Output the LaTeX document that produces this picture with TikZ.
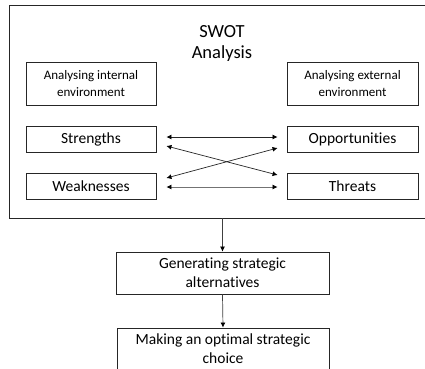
\documentclass[tikz,border=0pt]{standalone}
\usepackage{fontspec}
\setmainfont{Carlito}[Ligatures={NoCommon}]
\usetikzlibrary{arrows.meta,calc}
\begin{document}
\begin{tikzpicture}[x=1pt,y=1pt,
  box/.style={draw=black!85,line width=0.9pt,minimum width=130pt,inner sep=0pt,align=center,font=\fontsize{15.5}{19}\selectfont},
  smallbox/.style={box,minimum height=43pt,font=\fontsize{13}{17}\selectfont},
  rowbox/.style={box,minimum height=26pt},
  flowbox/.style={box,minimum width=213pt,minimum height=42pt,font=\fontsize{15.5}{19}\selectfont},
  link/.style={black!85,line width=0.7pt,{Latex[length=5pt,width=5pt,color=black]}-{Latex[length=5pt,width=5pt,color=black]}},
  down/.style={black!75,line width=0.7pt,-{Latex[length=5pt,width=5pt,color=black]}}]
\useasboundingbox (0,0) rectangle (425,-368);
\draw[black!85,line width=1pt] (432,-5) -- (9,-5) -- (9,-218) -- (432,-218);
\coordinate (outb) at (222.5,-218);
\node[align=center,font=\fontsize{18.5}{21}\selectfont] (title) at (222,-43) {SWOT\\Analysis};
\node[smallbox] (int) at (91,-83.5) {Analysing internal\\environment};
\node[smallbox,minimum width=131pt] (ext) at (352.5,-83.5) {Analysing external\\environment};
\node[rowbox] (s) at (91,-139) {Strengths};
\node[rowbox,minimum width=131pt] (o) at (352.5,-139) {Opportunities};
\node[rowbox] (w) at (91,-186) {Weaknesses};
\node[rowbox,minimum width=131pt] (t) at (352.5,-186) {Threats};
\node[flowbox] (gen) at (222.5,-273) {Generating strategic\\alternatives};
\node[flowbox,minimum width=212pt] (mak) at (223,-349) {Making an optimal strategic\\choice};
\draw[link] ($(s.east)+(10,2)$) -- ($(o.west)+(-9,2)$);
\draw[link] ($(s.east)+(10,-7)$) -- ($(t.west)+(-9,11)$);
\draw[link] ($(w.east)+(10,8)$) -- ($(o.west)+(-9,-9)$);
\draw[link,black!55] ($(w.east)+(10,-1)$) -- ($(t.west)+(-9,-1)$);
\draw[down] (outb) -- (gen.north);
\draw[down] (gen.south) -- (mak.north);
\end{tikzpicture}
\end{document}
